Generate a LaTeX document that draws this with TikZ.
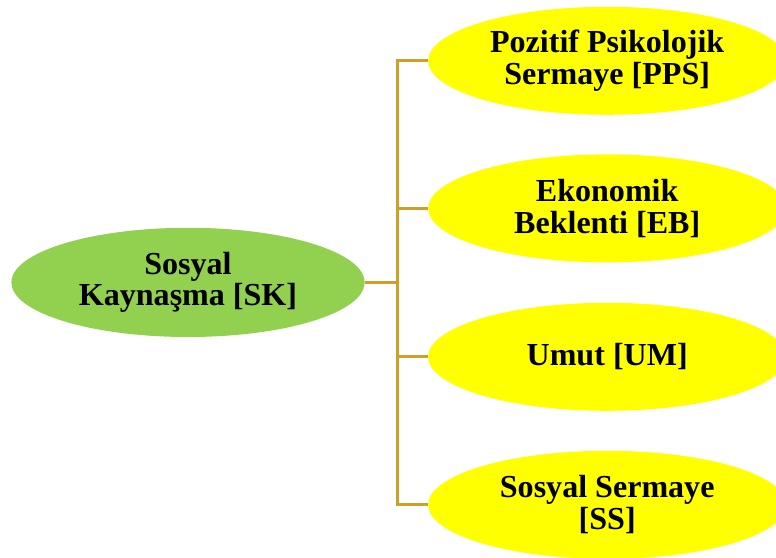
\documentclass[tikz,border=0pt]{standalone}
\usepackage{fontspec}
\setmainfont{Liberation Serif}
\usetikzlibrary{shapes.geometric}
\definecolor{skgreen}{RGB}{146,208,80}
\definecolor{leafyellow}{RGB}{255,255,0}
\definecolor{branchgold}{RGB}{207,160,40}
\begin{document}
\begin{tikzpicture}[
  blob/.style={ellipse,draw=none,inner sep=0pt,align=center,
    font=\fontsize{22.8pt}{22.6pt}\selectfont\bfseries},
  leaf/.style={blob,fill=leafyellow,minimum width=8.95cm,minimum height=2.7cm},
  link/.style={branchgold,line width=2pt}]
\useasboundingbox (0,0) rectangle (19.4,13.95);

\node[blob,fill=skgreen,minimum width=8.83cm,minimum height=2.73cm] (sk) at (4.70,6.89) {Sosyal\\Kaynaşma [SK]};

\node[leaf] (pps) at (15.18,12.43) {Pozitif Psikolojik\\Sermaye [PPS]};
\node[leaf] (eb) at (15.18,8.74) {Ekonomik\\Beklenti [EB]};
\node[leaf] (um) at (15.18,5.03) {Umut [UM]};
\node[leaf] (ss) at (15.18,1.33) {Sosyal Sermaye\\{[SS]}};

\coordinate (bus) at (9.93,6.89);
\draw[link] (sk.east) -- (bus);
\draw[link] (pps.west) -- (bus |- pps.west) -- (bus |- ss.west) -- (ss.west);
\foreach \n in {eb,um}
  \draw[link] (bus |- \n.west) -- (\n.west);

\end{tikzpicture}
\end{document}
